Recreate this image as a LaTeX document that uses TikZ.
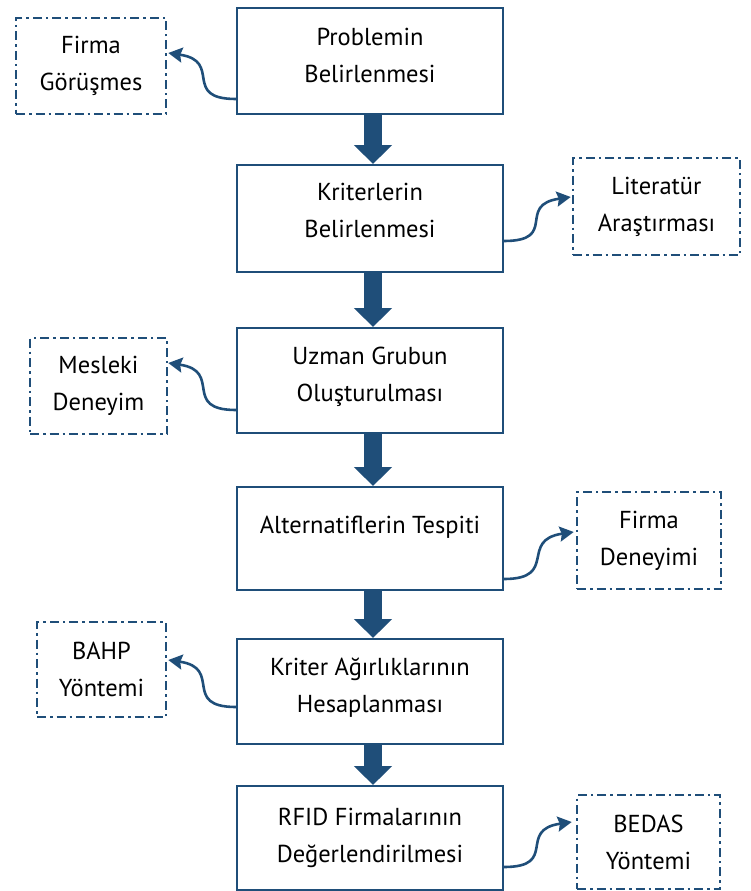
\documentclass[tikz,border=0pt]{standalone}
\usepackage{fontspec}
\setmainfont{PT Sans}
\usetikzlibrary{arrows.meta,calc}
\definecolor{navy}{HTML}{1F4E79}
\begin{document}
\begin{tikzpicture}[x=1pt,y=-1pt,
  txt/.style={font=\fontsize{24.5}{37}\selectfont, text=black, align=center},
  mainbox/.style={txt, draw=navy, line width=2pt, minimum width=266pt,
    inner sep=0pt, text depth=12pt},
  sidebox/.style={txt, draw=navy, line width=2.6pt,
    dash pattern=on 9pt off 4pt on 2.5pt off 4pt, inner sep=0pt},
  flow/.style={navy, line width=18pt,
    -{Triangle[length=19pt 0 0, width=37pt 0 0]}},
  link/.style={navy, line width=2.6pt,
    -{Stealth[length=14pt 0 0, width=15pt 0 0, inset=2pt 0]}}]
\useasboundingbox (0,0) rectangle (751,891);

% main process boxes
\node[mainbox, minimum height=106pt] (b1) at (370,61) {Problemin\\Belirlenmesi};
\node[mainbox, minimum height=107pt, text depth=16pt] (b2) at (370,218.5) {Kriterlerin\\Belirlenmesi};
\node[mainbox, minimum height=105pt] (b3) at (370,380.5) {Uzman Grubun\\Oluşturulması};
\node[mainbox, minimum height=103pt] (b4) at (370,538.5) {};
\node[txt] (t4) at (370,527) {Alternatiflerin Tespiti};
\node[mainbox, minimum height=105pt] (b5) at (370,691.5) {Kriter Ağırlıklarının\\Hesaplanması};
\node[mainbox, minimum height=104pt, text depth=6pt] (b6) at (370,838) {RFID Firmalarının\\Değerlendirilmesi};

% supporting inputs
\node[sidebox, minimum width=150pt, minimum height=96pt] (s1) at (91,66) {Firma\\Görüşmes};
\node[sidebox, minimum width=167pt, minimum height=97pt] (s2) at (656.5,206.5) {Literatür\\Araştırması};
\node[sidebox, minimum width=137pt, minimum height=96pt] (s3) at (98.5,386) {Mesleki\\Deneyim};
\node[sidebox, minimum width=144pt, minimum height=97pt] (s4) at (649,540.5) {Firma\\Deneyimi};
\node[sidebox, minimum width=129pt, minimum height=95pt] (s5) at (101.5,669.5) {BAHP\\Yöntemi};
\node[sidebox, minimum width=143pt, minimum height=94pt] (s6) at (648.5,842) {BEDAS\\Yöntemi};

% block arrows between process steps
\foreach \a/\b in {b1/b2,b2/b3,b3/b4,b4/b5,b5/b6}
  \draw[flow] ($(\a.south)+(3,0)$) -- ($(\b.north)+(3,0)$);

% curved links to the supporting inputs
\draw[link] ($(b1.south west)+(0,-16)$) .. controls +(-55,0) and +(55,8) .. ($(s1.east)+(1,-13)$);
\draw[link] ($(b3.south west)+(0,-24)$) .. controls +(-55,0) and +(55,8) .. ($(s3.east)+(0,-23)$);
\draw[link] ($(b5.south west)+(0,-38)$) .. controls +(-55,0) and +(55,8) .. ($(s5.east)+(1,-9.5)$);
\draw[link] ($(b2.south east)+(0,-32)$) .. controls +(55,0) and +(-55,8) .. ($(s2.west)+(-1,-9.5)$);
\draw[link] ($(b4.south east)+(0,-12)$) .. controls +(55,0) and +(-55,8) .. ($(s4.west)+(-2,-8.5)$);
\draw[link] ($(b6.south east)+(0,-24)$) .. controls +(55,0) and +(-55,8) .. ($(s6.west)+(-4,-20)$);
\end{tikzpicture}
\end{document}
